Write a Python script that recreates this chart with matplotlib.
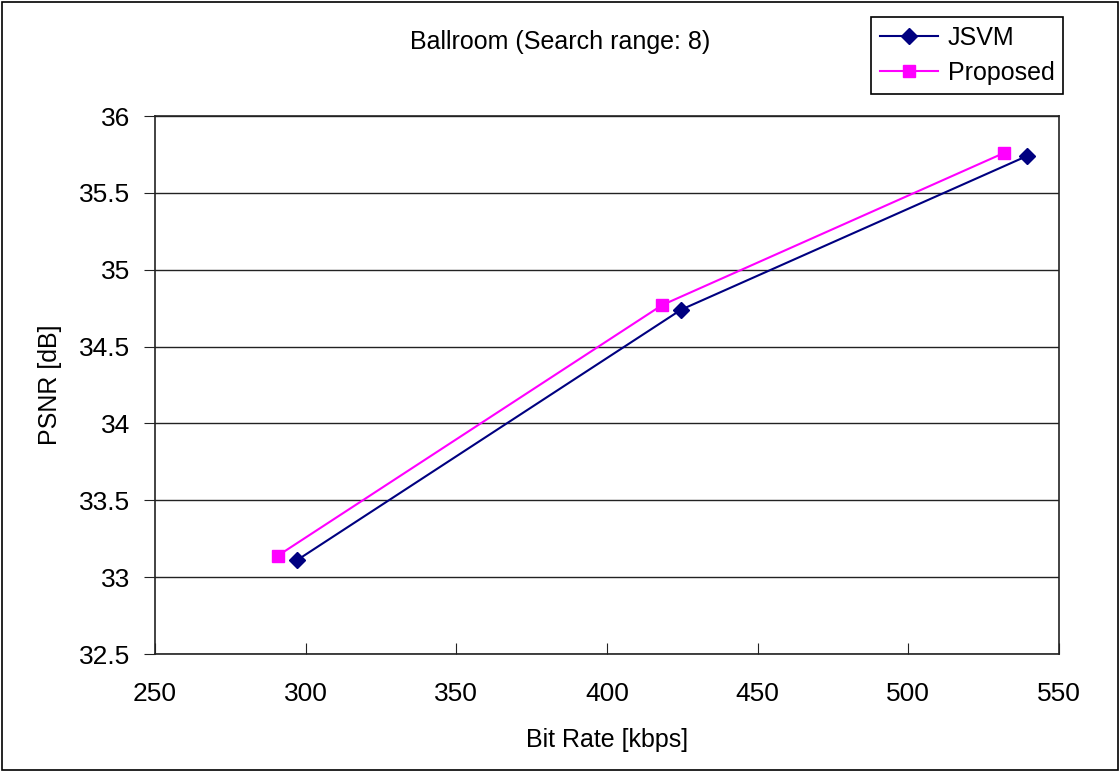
import matplotlib.pyplot as plt
from matplotlib.patches import Rectangle

# data
jsvm_rate = [297.1, 424.6, 539.4]
jsvm_psnr = [33.11, 34.74, 35.74]
prop_rate = [290.8, 418.3, 531.8]
prop_psnr = [33.14, 34.77, 35.76]

x_ticks = [250, 300, 350, 400, 450, 500, 550]
y_ticks = [32.5, 33, 33.5, 34, 34.5, 35, 35.5, 36]

plt.rcParams['font.family'] = ['Liberation Sans', 'DejaVu Sans']

fig = plt.figure(figsize=(11.2, 7.72), dpi=100)
ax = fig.add_axes([155/1120, 1-654/772, 904/1120, 538/772])

ax.plot(jsvm_rate, jsvm_psnr, color='#000080', marker='D', markersize=8,
        linewidth=1.5, label='JSVM')
ax.plot(prop_rate, prop_psnr, color='#FF00FF', marker='s', markersize=8,
        linewidth=1.5, label='Proposed')

ax.set_xlim(250, 550)
ax.set_ylim(32.5, 36)
ax.set_xticks(x_ticks)
ax.set_xticklabels([str(t) for t in x_ticks])
ax.set_yticks(y_ticks)
ax.set_yticklabels(['%g' % t for t in y_ticks])
ax.tick_params(axis='x', direction='in', length=8, labelsize=19, pad=20, color='#222222')
ax.tick_params(axis='y', direction='out', length=8, labelsize=19, pad=10, color='#222222')
ax.yaxis.grid(True, color='#222222', linewidth=1)
ax.set_axisbelow(True)
for s in ax.spines.values():
    s.set_color('#222222')
    s.set_linewidth(1.2)

ax.set_xlabel('Bit Rate [kbps]', fontsize=18, labelpad=16)
ax.set_ylabel('PSNR [dB]', fontsize=18, labelpad=12)

fig.text(0.5, 1-42/772, 'Ballroom (Search range: 8)', fontsize=18,
         ha='center', va='center')

leg = ax.legend(loc='upper right', bbox_to_anchor=(1063/1120, 1-17/772),
                bbox_transform=fig.transFigure, fontsize=18, frameon=True,
                fancybox=False, edgecolor='black', framealpha=1,
                handlelength=2.3, handletextpad=0.4, borderpad=0.35,
                labelspacing=0.45, borderaxespad=0)
leg.get_frame().set_linewidth(1.2)

# border around the whole figure
fig.patches.append(Rectangle((0.002, 0.002), 0.996, 0.996, transform=fig.transFigure,
                             fill=False, edgecolor='black', linewidth=1.2))

fig.savefig('out.png', dpi=100)
